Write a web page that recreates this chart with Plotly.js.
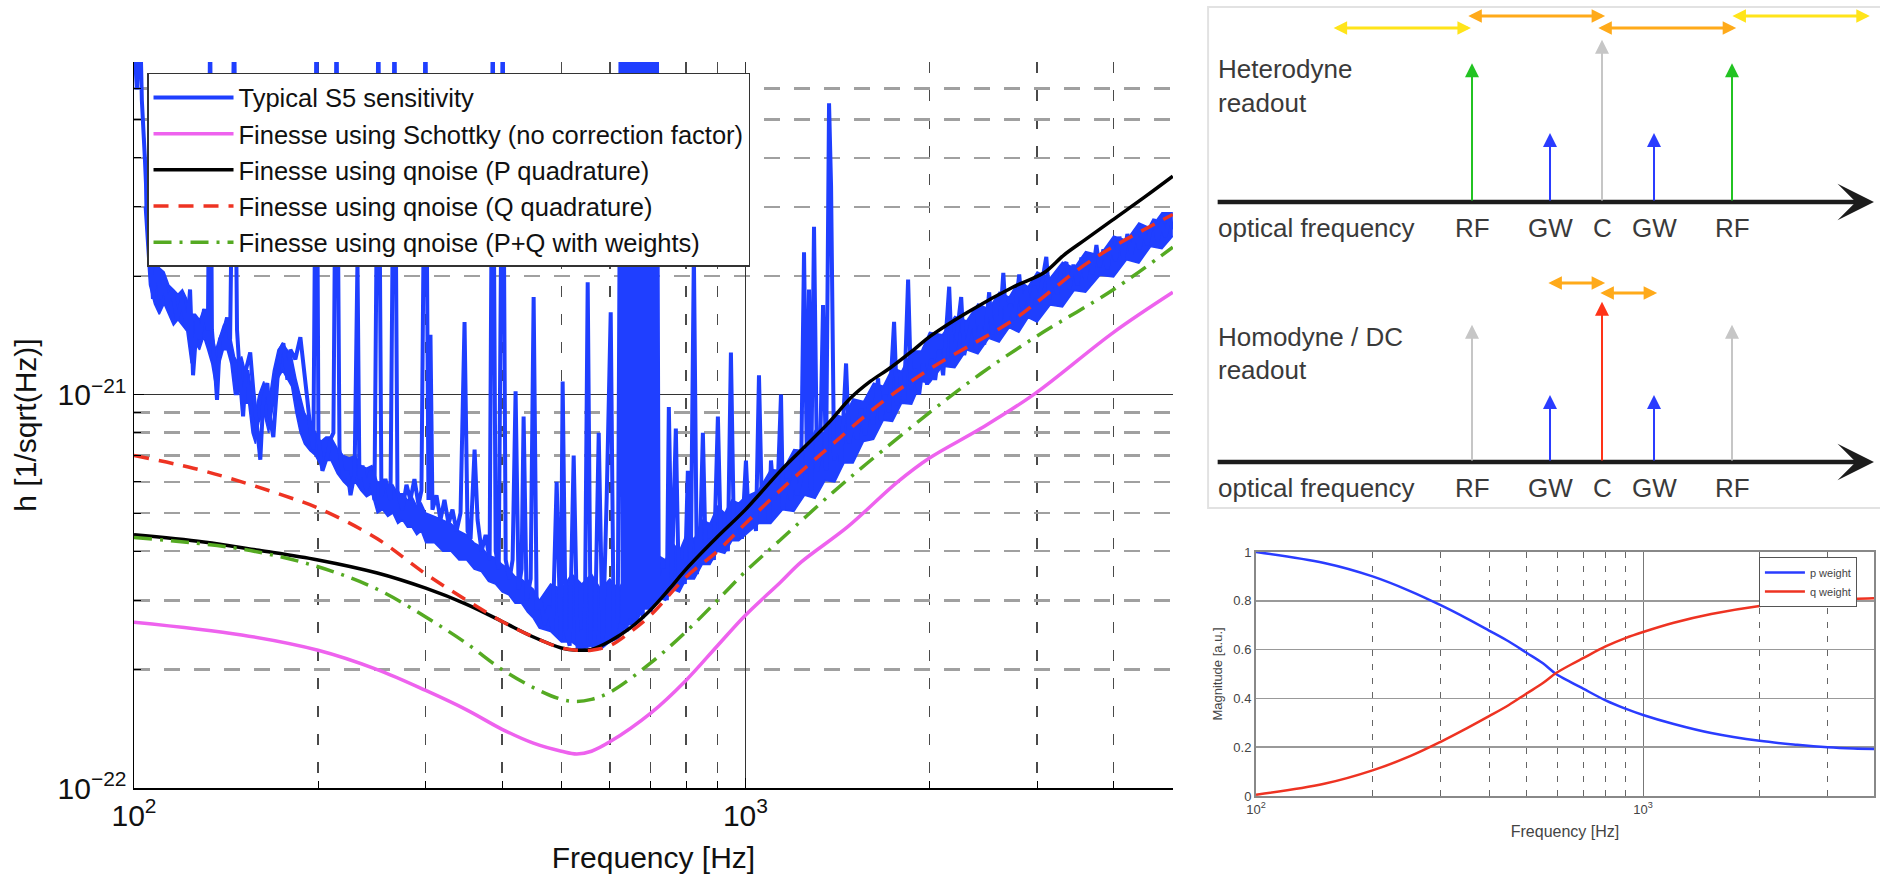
<!DOCTYPE html>
<html><head><meta charset="utf-8">
<script src="https://cdn.plot.ly/plotly-3.0.1.min.js"></script>
<style>html,body{margin:0;padding:0;background:#fff;}#chart{width:1880px;height:878px;}</style>
</head><body><div id="chart"></div>
<script>
// ---------------- Main chart data (strain in units of 1e-22 /sqrt(Hz)) ----------------
// S5 sensitivity: spectral lines / fine structure
const s5Freq = [
 100,101.1,102.3,103,104.2,105.4,106.2,107.4,109.1,110.3,
 112,113.2,115.4,117.6,119.8,122.1,123.5,124.9,126.8,128.2,
 130.2,132.1,133.2,134.1,135.7,136.7,138.2,140.4,142,143.6,
 145.8,147.4,149.1,150.8,152.5,154.9,156.7,159,160.9,162.7,
 165.2,167.1,169,171.6,173.5,175.5,178.2,180.2,183.6,187.1,
 189.3,192.1,194.3,196.5,198.8,200.3,203.3,207.2,209.6,211.9,
 214.4,216.8,220.1,223.4,226,229.5,232,233.7,236.4,240,
 243.6,247.3,251,253.9,257.7,262.7,266.7,269.7,274.8,279,
 283.2,287.5,291.9,295.2,299.7,303.1,305.4,307.7,312.4,317.1,
 321.9,326.9,331.8,336.9,342,347.2,351.2,355.2,360.6,364.7,
 370.2,375.9,381.6,386.1,390.4,394.9,400.9,405.4,411.4,416.1,
 420.8,425.6,430.4,433.7,438.7,445.4,450.4,455.6,462.4,469.4,
 476.5,483.8,491.2,498.6,502.4,508.1,515.9,523.7,531.6,539.7,
 545.9,552.1,558.4,566.8,575.5,584.2,593.1,602.1,609,618.3,
 625.3,630.1,634.8,639.6,644.5,649.3,654.3,659.2,664.2,669.2,
 674.3,679.4,684.5,689.7,694.9,700.2,705.5,710.8,716.2,721.6,
 727.1,735.4,743.8,749.4,757.9,769.4,778.2,787.1,796,805,
 814.2,823.5,832.8,842.3,851.9,861.6,874.7,888,901.5,911.7,
 925.6,936.1,946.8,957.5,972.1,986.8,1001.9,1013.3,1028.7,1040.4,
 1052.3,1064.2,1080.4,1092.7,1101,1113.5,1130.4,1143.3,1151.9,1169.5,
 1187.2,1200.7,1214.4,1232.9,1246.9,1261.1,1270.6,1280.2,1294.7,1309.5,
 1324.4,1339.5,1354.7,1370.1,1380.5,1396.2,1417.4,1433.5,1460.8,1477.4,
 1499.8,1522.6,1545.7,1569.2,1593,1617.2,1648,1666.6,1692,1717.7,
 1750.3,1770.2,1797.1,1817.5,1845.2,1866.1,1895,1923.4,1952.6,1982.3,
 2012.6,2043,2074,2105.6,2154,2178.4,2211.5,2253.5,2279,2313.7,
 2357.7,2384.5,2420.7,2457.5,2504,2532.5,2571,2600,2641,2671,
 2711,2752,2804,2836,2879,2923,2968,3013,3058,3105,
 3141,3188,3237,3286,3349,3387,3439,3491,3544,3598,
 3652,3694,3750,3793,3850,3909,3968,4028,4089,4151,
 4214,4278,4343,4409,4476,4543,4612,4665,4718,4790,
 4862,4936,5000];
const s5Strain = [
 80,59.7,90,56,39.6,26.3,23.4,17.5,22.1,17.5,
 19.6,17,18.5,15.5,17.5,14.6,18.5,11.2,15.5,13.8,
 16.5,14.6,90,14.6,11.6,9.7,13.8,14.6,15.7,13.8,
 90,14.6,10.9,8.8,11.6,12.8,10.3,8.15,6.83,9.7,
 10.7,8.6,7.8,10.9,13,13.5,10.9,13,12.3,14,
 11.6,9.7,8.15,7.25,90,7.7,6.4,7.0,7.7,8,
 90,7.25,6.1,6.4,5.55,6.3,22,6.1,6.6,5.7,
 6.4,5.4,90,5.5,6.1,5.4,90,5.7,5.1,5.9,
 5.4,6.1,5.25,5.7,90,5.4,14.2,5.1,5.55,4.8,
 5.4,4.7,5.1,4.5,5.0,15.3,4.5,4.3,7.25,4.8,
 4.0,4.4,3.8,90,4.0,3.6,90,3.8,3.4,3.8,
 10.2,3.2,3.6,8.8,3.0,3.4,17.7,2.84,3.0,2.6,
 2.9,2.52,6.0,2.38,10.8,2.52,2.3,7.0,2.24,2.52,
 2.3,19.3,2.38,2.24,8.0,2.3,5.5,16.2,2.38,2.68,
 100,2.6,100,2.5,100,2.7,100,2.6,100,2.8,
 100,2.7,100,2.9,100,2.8,100,3.0,100,3.0,
 3.19,3.6,3.0,9.3,3.4,8.2,3.19,3.8,3.3,6.4,
 3.8,23,3.5,4.0,8,3.7,4.3,3.8,8.8,4.15,
 4.65,4.0,12.8,4.4,4.95,4.3,6.8,4.65,5.4,4.5,
 11.2,5.1,5.7,4.8,6.8,5.4,6.1,10,5.1,6.1,
 5.4,6.4,5.55,6.1,23,6.3,18.5,5.7,26.7,6.4,
 7.0,16.9,6.4,55,34,6.8,7.7,6.7,12,7.5,
 8.6,7.7,9.2,7.9,9.4,8.4,11,8.6,10,9.0,
 15.3,9.4,10.6,9.7,19.6,10.3,11.6,10.0,12,10.6,
 12.3,10.9,13,11.2,18.8,12,13.8,17.7,12.6,14.2,
 16,13,15,13.4,18.2,14.2,16,14.2,20.4,15,
 17,15.5,20.2,16.5,18.5,16.5,18.9,17,19.6,22.4,
 17.5,20,18,20.8,21.7,18.5,21.4,19.0,22.3,19.6,
 22.7,20.2,24,21.1,23.4,20.8,24.5,21.8,25.2,22.3,
 25.6,22.7,26,23.4,26.5,24,27,27.9,24.5,27.5,
 25.2,28.3,26.3];

// S5 sensitivity: dense noise floor (lower / upper envelope)
const s5BandFreq = [104,106,108,110,112,114,116,118,120,122,
 124,126,128,130,132,134,136,138,140,142,
 144,146,148,150,152,154,156,158,160,
 163,166,169,172,175,178,181,184,187,190,
 194,198,202,206,210,
 215,220,225,230,235,240,245,
 250,255,260,265,270,275,280,285,290,295,300,
 310,320,330,340,350,360,370,380,390,400,410,420,430,440,450,
 460,480,500,520,540,560,580,600,620,640,660,680,700,720,740,760,780,800,825,850,875,900,925,950,975,
 1000,1050,1100,1150,1200,1250,1300,1350,1400,1450,1500,1560,1620,1680,1740,1800,1870,1940,2000,2100,
 2200,2300,2400,2500,2600,2700,2800,2900,3000,3150,3300,3450,3600,3800,4000,4200,4400,4600,4800,5000];
const s5BandLow = [30,19,17,16,17,16,15,15.5,15,14.5,
 12,13.5,13,14,13,12,10.5,12,13,13,
 12,10,10,10.5,9.5,9.5,8,7.5,8.5,
 9,8,9.5,11,11.5,11,10.5,9,8,7.5,
 7.2,7,6.6,6.8,6.8,
 6.3,6.0,5.8,6.0,5.7,5.5,5.6,
 5.0,5.1,4.9,5.0,4.7,4.8,4.6,4.6,4.4,4.5,4.2,
 4.2,4.0,4.0,3.8,3.8,3.6,3.55,3.35,3.3,3.15,3.1,2.95,2.95,2.8,2.7,
 2.55,2.5,2.35,2.35,2.25,2.3,2.25,2.35,2.4,2.6,2.6,2.85,2.85,3.05,3.0,3.2,3.15,3.4,3.4,3.7,3.7,4.0,3.95,4.25,4.25,
 4.4,4.7,4.7,5.1,5.05,5.55,5.45,6.05,6.0,6.7,6.7,7.6,7.7,8.6,8.55,9.5,9.45,10.8,10.7,11.8,
 11.7,13.0,12.7,13.9,13.6,14.8,14.4,15.7,15.3,16.9,16.7,18.4,18.2,20.1,19.9,22.0,21.6,23.8,23.5,25.3];
const s5BandHigh = [45,26,22,21,20.5,19,18.5,18,18.5,17.5,
 16,16,15.5,16.5,15.5,14.5,13,14,15,15.5,
 14,12.5,12,12.5,11.5,11.5,10,9,10,
 10.8,9.5,11.5,13,13.5,13,12.5,11,10,9,
 8.5,8,7.6,7.8,7.8,
 7.3,7.0,6.9,7.0,6.6,6.5,6.6,
 6.0,6.0,5.8,5.9,5.6,5.6,5.4,5.5,5.2,5.3,5.0,
 4.9,4.8,4.7,4.5,4.4,4.2,4.1,3.9,3.85,3.7,3.6,3.45,3.4,3.3,3.2,
 3.0,3.3,3.2,3.5,3.3,3.5,3.2,3.4,3.2,3.5,3.4,3.7,3.6,3.9,3.8,4.2,4.0,4.4,4.3,4.8,4.7,5.2,5.0,5.4,5.3,
 5.5,5.7,6.45,6.4,7.25,7.2,8.1,8.0,8.9,8.75,9.75,9.6,10.7,10.5,11.7,11.45,12.9,12.9,14.4,14.2,
 15.8,15.4,17.0,16.5,18.2,17.7,19.5,18.8,20.5,19.8,21.7,21.0,23.1,22.6,25.3,24.7,27.3,26.5,29.0,29.0];

const schottkyFreq = [100,150,200,250,300,350,400,450,500,530,560,600,700,800,900,1000,1140,1233,1469,1774,2000,2425,2960,4000,5000];
const schottkyStrain = [2.64,2.45,2.24,2.0,1.77,1.58,1.41,1.3,1.24,1.22,1.24,1.31,1.55,1.88,2.3,2.75,3.33,3.75,4.61,6.0,6.9,8.2,10.0,14.4,18.2];

const pQuadFreq = [100,130,160,200,250,300,350,400,450,500,530,560,600,650,700,750,800,900,1000,1141,1231,1370,1486,1600,1726,1884,2009,2309,2746,3077,3314,3600,4000,4500,5000];
const pQuadStrain = [4.4,4.22,4.02,3.8,3.52,3.22,2.93,2.65,2.42,2.27,2.24,2.25,2.36,2.56,2.84,3.2,3.6,4.35,5.1,6.4,7.2,8.5,9.8,10.8,11.7,13.0,14.1,16.2,18.8,20.4,22.6,24.8,27.9,31.8,35.9];

const qQuadFreq = [100,125,150,175,200,250,300,350,400,450,500,530,560,600,650,700,800,900,1000,1166,1377,1663,2000,2746,3000,3530,4000,5000];
const qQuadStrain = [7.0,6.5,6.0,5.55,5.15,4.3,3.5,3.0,2.65,2.42,2.27,2.24,2.24,2.3,2.5,2.75,3.44,4.0,4.7,5.9,7.4,9.5,11.6,15.5,17.2,21.0,23.8,28.7];

const pqFreq = [100,150,200,250,300,350,400,450,500,530,560,600,700,800,900,1000,1140,1393,1585,2000,2425,3000,4000,5000];
const pqStrain = [4.33,4.05,3.65,3.2,2.72,2.33,2.0,1.8,1.68,1.66,1.68,1.75,2.08,2.5,3.0,3.55,4.27,5.66,6.71,9.0,11.3,14.1,18.5,23.7];

const mainXTicks = [100, 1000];
const mainXTickText = ['10<sup>2</sup>', '10<sup>3</sup>'];
const mainXMinor = [200,300,400,500,600,700,800,900,2000,3000,4000,5000];
const mainYTicks = [1e-22, 1e-21];
const mainYTickText = ['10<sup>\u221222</sup>', '10<sup>\u221221</sup>'];
const mainYMinor = [2e-22,3e-22,4e-22,5e-22,6e-22,7e-22,8e-22,9e-22,2e-21,3e-21,4e-21,5e-21,6e-21,7e-21];

const legendNames = ['Typical S5 sensitivity','Finesse using Schottky (no correction factor)','Finesse using qnoise (P quadrature)','Finesse using qnoise (Q quadrature)','Finesse using qnoise (P+Q with weights)'];

// ---------------- Weight chart data ----------------
const wFreq = [100,150,200,250,300,350,400,450,500,550,596,650,700,800,900,1000,1200,1500,2000,2500,3000,3500,3950];
const pWeight = [1.0,0.955,0.9,0.84,0.782,0.728,0.678,0.633,0.587,0.545,0.5,0.467,0.44,0.392,0.358,0.332,0.295,0.258,0.226,0.21,0.2,0.195,0.193];
const qWeight = [0.005,0.05,0.105,0.163,0.222,0.277,0.327,0.373,0.42,0.462,0.504,0.538,0.565,0.613,0.647,0.672,0.71,0.746,0.779,0.795,0.804,0.808,0.81];
const wXTicks = [100, 1000];
const wXMinor = [200,300,400,500,600,700,800,900,2000,3000];
const wYTicks = [0,0.2,0.4,0.6,0.8,1];
const wYTickText = ['0','0.2','0.4','0.6','0.8','1'];

// ---------------- Readout diagram data ----------------
const lineLabels = ['RF','GW','C','GW','RF'];
const linePos = [-2.5,-1,0,1,2.5];
const heteroAmp = [2.01,1.0,2.35,1.0,2.01];
const heteroColors = ['#22c322','#2a3cff','#c6c6c6','#2a3cff','#22c322'];
const homoAmp = [1.99,0.97,2.32,0.97,1.99];
const homoColors = ['#c6c6c6','#2a3cff','#ff3318','#2a3cff','#c6c6c6'];
const heteroBandFrom = [-5.19,-2.6,-0.1,2.48];
const heteroBandTo = [-2.52,0.06,2.58,5.15];
const heteroBandLevel = [6.957,7.13,6.957,7.13];
const heteroBandColor = ['#ffe41a','#ffaa1a','#ffaa1a','#ffe41a'];
const homoBandFrom = [-1.06,-0.06];
const homoBandTo = [0.06,1.06];
const homoBandLevel = [3.26,3.116];
const homoBandColor = ['#ffaa1a','#ffaa1a'];
const heteroBase = 4.435, homoBase = 0.667;
const axisStart = -7.42, axisEnd = 5.23;

const FONT = 'Liberation Sans, Arial, Helvetica, sans-serif';
const E22 = 1e-22;
const scale = a => a.map(v => v * E22);
const BLUE = '#1f3fff';

const traces = [
  {x: s5BandFreq, y: scale(s5BandLow), mode: 'lines', line: {color: BLUE, width: 1.5}, showlegend: false, hoverinfo: 'skip'},
  {x: s5BandFreq, y: scale(s5BandHigh), mode: 'lines', line: {color: BLUE, width: 1.5}, fill: 'tonexty', fillcolor: BLUE, showlegend: false, hoverinfo: 'skip'},
  {x: s5Freq, y: scale(s5Strain), name: legendNames[0], mode: 'lines', line: {color: BLUE, width: 4}},
  {x: schottkyFreq, y: scale(schottkyStrain), name: legendNames[1], mode: 'lines', line: {color: '#ee62ee', width: 3.5, shape: 'spline'}},
  {x: pQuadFreq, y: scale(pQuadStrain), name: legendNames[2], mode: 'lines', line: {color: '#000000', width: 3.5, shape: 'spline'}},
  {x: qQuadFreq, y: scale(qQuadStrain), name: legendNames[3], mode: 'lines', line: {color: '#ee3322', width: 3.5, dash: '15px,10px', shape: 'spline'}},
  {x: pqFreq, y: scale(pqStrain), name: legendNames[4], mode: 'lines', line: {color: '#55aa22', width: 3.5, dash: '18px,8px,3px,8px', shape: 'spline'}},
  {x: wFreq, y: pWeight, name: 'p weight', mode: 'lines', xaxis: 'x2', yaxis: 'y2', legend: 'legend2', line: {color: '#2a3cff', width: 2.5, shape: 'spline'}},
  {x: wFreq, y: qWeight, name: 'q weight', mode: 'lines', xaxis: 'x2', yaxis: 'y2', legend: 'legend2', line: {color: '#ee3322', width: 2.5, shape: 'spline'}},
  {x: linePos, y: heteroAmp.map(a => heteroBase + a), mode: 'markers', xaxis: 'x3', yaxis: 'y3', marker: {opacity: 0}, showlegend: false, hoverinfo: 'skip'}
];

const annotations = [];
[heteroBase, homoBase].forEach(b => annotations.push({
  xref: 'x3', yref: 'y3', axref: 'x3', ayref: 'y3', x: axisEnd, y: b, ax: axisStart, ay: b,
  text: '', showarrow: true, arrowhead: 3, arrowsize: 1.35, arrowwidth: 4.5, arrowcolor: '#1c1c1c', standoff: 0
}));
linePos.forEach((p, i) => {
  annotations.push({xref: 'x3', yref: 'y3', axref: 'x3', ayref: 'y3', x: p, y: heteroBase + heteroAmp[i], ax: p, ay: heteroBase,
    text: '', showarrow: true, arrowhead: 2, arrowsize: 1.4, arrowwidth: 2, arrowcolor: heteroColors[i], standoff: 0});
  annotations.push({xref: 'x3', yref: 'y3', axref: 'x3', ayref: 'y3', x: p, y: homoBase + homoAmp[i], ax: p, ay: homoBase,
    text: '', showarrow: true, arrowhead: 2, arrowsize: 1.4, arrowwidth: 2, arrowcolor: homoColors[i], standoff: 0});
  annotations.push({xref: 'x3', yref: 'y3', x: p, y: 4.06, text: lineLabels[i], showarrow: false, font: {family: FONT, size: 26, color: '#3a3a3a'}});
  annotations.push({xref: 'x3', yref: 'y3', x: p, y: 0.29, text: lineLabels[i], showarrow: false, font: {family: FONT, size: 26, color: '#3a3a3a'}});
});
heteroBandFrom.forEach((f, i) => annotations.push({xref: 'x3', yref: 'y3', axref: 'x3', ayref: 'y3',
  x: heteroBandTo[i], y: heteroBandLevel[i], ax: f, ay: heteroBandLevel[i], text: '', showarrow: true,
  arrowside: 'end+start', arrowhead: 2, startarrowhead: 2, arrowsize: 0.9, startarrowsize: 0.9, arrowwidth: 3, arrowcolor: heteroBandColor[i], standoff: 0, startstandoff: 0}));
homoBandFrom.forEach((f, i) => annotations.push({xref: 'x3', yref: 'y3', axref: 'x3', ayref: 'y3',
  x: homoBandTo[i], y: homoBandLevel[i], ax: f, ay: homoBandLevel[i], text: '', showarrow: true,
  arrowside: 'end+start', arrowhead: 2, startarrowhead: 2, arrowsize: 0.9, startarrowsize: 0.9, arrowwidth: 3, arrowcolor: homoBandColor[i], standoff: 0, startstandoff: 0}));
const diagTexts = [['Heterodyne', 6.36], ['readout', 5.87], ['optical frequency', 4.06], ['Homodyne / DC', 2.48], ['readout', 2.0], ['optical frequency', 0.29]];
diagTexts.forEach(t => annotations.push({xref: 'x3', yref: 'y3', x: axisStart, y: t[1], text: t[0], showarrow: false, xanchor: 'left',
  font: {family: FONT, size: 26, color: '#3a3a3a'}}));

const layout = {
  width: 1880, height: 878,
  margin: {l: 0, r: 0, t: 0, b: 0},
  paper_bgcolor: '#ffffff', plot_bgcolor: '#ffffff',
  font: {family: FONT, color: '#111'},
  showlegend: true,
  xaxis: {
    type: 'log', range: [2, 3.6993], domain: [0.07128, 0.62394], anchor: 'y',
    showline: true, linecolor: '#000', linewidth: 1.5, mirror: false,
    tickmode: 'array', tickvals: mainXTicks, ticktext: mainXTickText,
    ticks: 'inside', ticklen: 10, tickcolor: '#000', tickfont: {size: 30, family: FONT, color: '#111'},
    showgrid: true, gridcolor: '#333', gridwidth: 1,
    minor: {tickmode: 'array', tickvals: mainXMinor, ticks: 'inside', ticklen: 7, tickcolor: '#000',
      showgrid: true, gridcolor: '#4a4a4a', gridwidth: 1.5, griddash: '11px,17px'},
    zeroline: false,
    title: {text: 'Frequency [Hz]', font: {size: 30, family: FONT, color: '#111'}, standoff: 16}
  },
  yaxis: {
    type: 'log', range: [-22, -20.1545], domain: [0.1025, 0.9294], anchor: 'x',
    showline: true, linecolor: '#000', linewidth: 1.5, mirror: false,
    tickmode: 'array', tickvals: mainYTicks, ticktext: mainYTickText,
    ticks: 'inside', ticklen: 10, tickcolor: '#000', tickfont: {size: 30, family: FONT, color: '#111'},
    showgrid: true, gridcolor: '#333', gridwidth: 1,
    minor: {tickmode: 'array', tickvals: mainYMinor, ticks: 'inside', ticklen: 7, tickcolor: '#000',
      showgrid: true, gridcolor: '#a0a0a0', gridwidth: 2.5, griddash: '16px,14px'},
    zeroline: false,
    title: {text: 'h [1/sqrt(Hz)]', font: {size: 30, family: FONT, color: '#111'}, standoff: 12}
  },
  xaxis2: {
    type: 'log', range: [2, 3.5966], domain: [0.6681, 0.99681], anchor: 'y2',
    showline: true, linecolor: '#888', linewidth: 2, mirror: true,
    tickmode: 'array', tickvals: wXTicks, ticktext: mainXTickText,
    ticks: '', tickfont: {size: 13, family: FONT, color: '#444'},
    showgrid: true, gridcolor: '#777', gridwidth: 1,
    minor: {tickmode: 'array', tickvals: wXMinor, ticks: '', showgrid: true, gridcolor: '#666', gridwidth: 1, griddash: '6px,8px'},
    zeroline: false,
    title: {text: 'Frequency [Hz]', font: {size: 16, family: FONT, color: '#444'}, standoff: 10}
  },
  yaxis2: {
    range: [0, 1], domain: [0.0934, 0.3713], anchor: 'x2',
    showline: true, linecolor: '#888', linewidth: 2, mirror: true,
    tickmode: 'array', tickvals: wYTicks, ticktext: wYTickText,
    ticks: '', tickfont: {size: 13, family: FONT, color: '#444'},
    showgrid: true, gridcolor: '#999', gridwidth: 1.5, zeroline: false,
    title: {text: 'Magnitude [a.u.]', font: {size: 13, family: FONT, color: '#444'}, standoff: 8}
  },
  xaxis3: {range: [-7.577, 5.346], domain: [0.64255, 1], anchor: 'y3', visible: false, fixedrange: true},
  yaxis3: {range: [0, 7.26], domain: [0.42141, 0.99203], anchor: 'x3', visible: false, fixedrange: true},
  legend: {
    x: 0.0782, y: 0.9169, xanchor: 'left', yanchor: 'top', traceorder: 'normal',
    bgcolor: '#ffffff', bordercolor: '#333', borderwidth: 1.5,
    font: {size: 25.5, family: FONT, color: '#111'}, itemwidth: 80, tracegroupgap: 0
  },
  legend2: {
    x: 0.9356, y: 0.3656, xanchor: 'left', yanchor: 'top', traceorder: 'normal',
    bgcolor: '#ffffff', bordercolor: '#555', borderwidth: 1,
    font: {size: 11, family: FONT, color: '#444'}, itemwidth: 40, tracegroupgap: 0
  },
  shapes: [
    {type: 'rect', xref: 'paper', yref: 'paper', x0: 0.6426, x1: 1.01, y0: 0.4214, y1: 0.992, line: {color: '#e2e2e2', width: 2}, fillcolor: 'rgba(0,0,0,0)', layer: 'below'}
  ],
  annotations: annotations
};

Plotly.newPlot('chart', traces, layout, {staticPlot: true, displayModeBar: false});
</script></body></html>
